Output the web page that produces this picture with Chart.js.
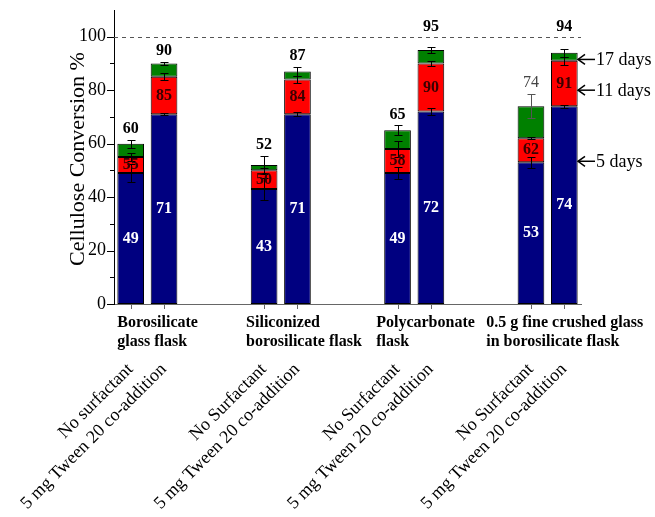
<!DOCTYPE html>
<html>
<head>
<meta charset="utf-8">
<script src="https://cdn.jsdelivr.net/npm/chart.js@4.4.0/dist/chart.umd.min.js"></script>
<style>
  html, body { margin: 0; padding: 0; background: #fff; }
  #wrap { width: 655px; height: 517px; }
</style>
</head>
<body>
<div id="wrap"><canvas id="c" width="655" height="517"></canvas></div>
<script>
// Flask types (two-line group captions)
const groupNames = [
  ['Borosilicate', 'glass flask'],
  ['Siliconized', 'borosilicate flask'],
  ['Polycarbonate', 'flask'],
  ['0.5 g fine crushed glass', 'in borosilicate flask']
];
// Treatment under each bar
const barNames = [
  'No surfactant', '5 mg Tween 20 co-addition',
  'No Surfactant', '5 mg Tween 20 co-addition',
  'No Surfactant', '5 mg Tween 20 co-addition',
  'No Surfactant', '5 mg Tween 20 co-addition'
];
// Bar slots on the x scale (two bars per flask type)
const barSlots = [0, 1, 4, 5, 8, 9, 12, 13];

// Cumulative cellulose conversion (%) after 5, 11 and 17 days
const day5  = [49, 71, 43, 71, 49, 72, 53, 74];
const day11 = [55, 85, 50, 84, 58, 90, 62, 91];
const day17 = [60, 90, 52, 87, 65, 95, 74, 94];
// Standard deviations
const err5  = [3.5, 0.4, 4.0, 0.7, 2.2, 1.2, 2.0, 0.5];
const err11 = [1.5, 1.3, 1.0, 1.2, 3.0, 1.0, 0.4, 1.5];
const err17 = [1.5, 0.5, 3.5, 1.8, 1.8, 1.0, 4.5, 1.5];

const yTicks = [0, 20, 40, 60, 80, 100];
const dayLabels = ['5 days', '11 days', '17 days'];

const SERIF = "'Liberation Serif', 'Times New Roman', serif";

function span(lo, hi) {
  return barSlots.map((s, i) => ({ x: s, y: [lo ? lo[i] : 0, hi[i]] }));
}

const common = {
  borderColor: '#000',
  borderWidth: 1,
  borderSkipped: false,
  barPercentage: 0.8,
  categoryPercentage: 1.0
};

const line = (ctx, x1, y1, x2, y2) => {
  ctx.beginPath(); ctx.moveTo(x1, y1); ctx.lineTo(x2, y2); ctx.stroke();
};
const px = v => Math.round(v) + 0.5;

const decor = {
  id: 'decor',
  beforeDatasetsDraw(chart) {
    const { ctx, chartArea: a, scales: { y } } = chart;
    const yy = px(y.getPixelForValue(100));
    ctx.save();
    ctx.strokeStyle = '#555';
    ctx.lineWidth = 1;
    ctx.setLineDash([4, 4]);
    line(ctx, a.left, yy, a.right, yy);
    ctx.restore();
  },
  afterDatasetsDraw(chart) {
    const { ctx, scales: { x, y } } = chart;
    const levels = [[day5, err5], [day11, err11], [day17, err17]];
    ctx.save();
    ctx.lineWidth = 1;
    // error bars
    barSlots.forEach((s, i) => {
      const cx = px(x.getPixelForValue(s));
      levels.forEach(([v, e], k) => {
        ctx.strokeStyle = (k === 2 && i === 6) ? '#555' : '#000';
        const t = px(y.getPixelForValue(v[i] + e[i]));
        const b = px(y.getPixelForValue(v[i] - e[i]));
        line(ctx, cx, t, cx, b);
        line(ctx, cx - 4, t, cx + 4, t);
        line(ctx, cx - 4, b, cx + 4, b);
      });
    });
    // value labels
    ctx.textAlign = 'center';
    ctx.textBaseline = 'middle';
    const refY = y.getPixelForValue(100);
    barSlots.forEach((s, i) => {
      const cx = x.getPixelForValue(s);
      ctx.font = `bold 16px ${SERIF}`;
      ctx.fillStyle = '#fff';
      ctx.fillText(String(day5[i]), cx, (y.getPixelForValue(0) + y.getPixelForValue(day5[i])) / 2);
      ctx.fillStyle = '#3a0000';
      ctx.fillText(String(day11[i]), cx, (y.getPixelForValue(day5[i]) + y.getPixelForValue(day11[i])) / 2);
      let ty = y.getPixelForValue(day17[i] + err17[i]) - 11;
      if (Math.abs(ty - refY) < 10) ty = refY - 10;
      if (i === 6) {
        ctx.font = `16px ${SERIF}`;
        ctx.fillStyle = '#444';
      } else {
        ctx.fillStyle = '#000';
      }
      ctx.fillText(String(day17[i]), cx, ty);
    });
    ctx.restore();
  },
  afterDraw(chart) {
    const { ctx, chartArea: a, scales: { x, y } } = chart;
    ctx.save();
    ctx.lineWidth = 1;
    // y-axis major/minor ticks
    ctx.strokeStyle = '#000';
    for (let v = 0; v <= 100; v += 10) {
      const yy = px(y.getPixelForValue(v));
      const len = v % 20 === 0 ? 7 : 4;
      line(ctx, a.left - len, yy, a.left, yy);
    }
    // x-axis ticks at each bar
    ctx.strokeStyle = '#666';
    barSlots.forEach(s => {
      const cx = px(x.getPixelForValue(s));
      line(ctx, cx, a.bottom, cx, a.bottom + 5);
    });

    // flask captions
    const capX = [-0.4, 3.46, 7.36, 10.66];
    ctx.fillStyle = '#000';
    ctx.font = `bold 16px ${SERIF}`;
    ctx.textAlign = 'left';
    ctx.textBaseline = 'alphabetic';
    groupNames.forEach((g, gi) => {
      const lx = x.getPixelForValue(capX[gi]);
      ctx.fillText(g[0], lx, a.bottom + 23);
      ctx.fillText(g[1], lx, a.bottom + 42);
    });

    // treatment labels, slanted
    ctx.font = `18px ${SERIF}`;
    ctx.textAlign = 'right';
    barSlots.forEach((s, i) => {
      const cx = x.getPixelForValue(s);
      ctx.save();
      ctx.translate(cx + 3, a.bottom + 66);
      ctx.rotate(-Math.PI / 4);
      ctx.fillText(barNames[i], 0, 0);
      ctx.restore();
    });

    // y-axis title
    ctx.save();
    ctx.font = `22px ${SERIF}`;
    ctx.textAlign = 'center';
    ctx.translate(84, 159);
    ctx.rotate(-Math.PI / 2);
    ctx.fillText('Cellulose Conversion %', 0, 0);
    ctx.restore();

    // day markers next to the last bar
    const markAt = [53.4, 80, 91.5];
    ctx.font = `18px ${SERIF}`;
    ctx.textAlign = 'left';
    ctx.textBaseline = 'middle';
    ctx.strokeStyle = '#000';
    ctx.lineWidth = 1.5;
    markAt.forEach((v, k) => {
      const yy = y.getPixelForValue(v);
      const hx = a.right - 3;
      line(ctx, hx, yy, a.right + 14, yy);
      ctx.beginPath();
      ctx.moveTo(hx + 7, yy - 5); ctx.lineTo(hx, yy); ctx.lineTo(hx + 7, yy + 5);
      ctx.stroke();
      ctx.fillText(dayLabels[k], a.right + 15, yy + 1);
    });
    ctx.restore();
  }
};

new Chart(document.getElementById('c'), {
  type: 'bar',
  data: {
    datasets: [
      Object.assign({ label: dayLabels[0], data: span(null, day5),  backgroundColor: '#000080' }, common),
      Object.assign({ label: dayLabels[1], data: span(day5, day11), backgroundColor: '#ff0000' }, common),
      Object.assign({ label: dayLabels[2], data: span(day11, day17), backgroundColor: '#008000' }, common)
    ]
  },
  options: {
    responsive: false,
    animation: false,
    layout: { padding: { top: 10, right: 74, left: 0, bottom: 0 } },
    plugins: { legend: { display: false }, tooltip: { enabled: false } },
    scales: {
      x: {
        type: 'linear', min: -0.5, max: 13.5, stacked: true, offset: false,
        ticks: { display: false },
        grid: { display: false, drawTicks: false },
        border: { display: true, color: '#666', width: 1 },
        afterFit(s) { s.height = 213; s.paddingLeft = 0; s.paddingRight = 0; }
      },
      y: {
        min: 0, max: 110,
        afterBuildTicks(s) { s.ticks = yTicks.map(v => ({ value: v })); },
        ticks: { padding: 8, color: '#000', font: { family: SERIF, size: 18 } },
        grid: { display: false, drawTicks: false },
        border: { display: true, color: '#000', width: 1 },
        afterFit(s) { s.width = 114; s.paddingTop = 0; s.paddingBottom = 0; }
      }
    }
  },
  plugins: [decor]
});
</script>
</body>
</html>
